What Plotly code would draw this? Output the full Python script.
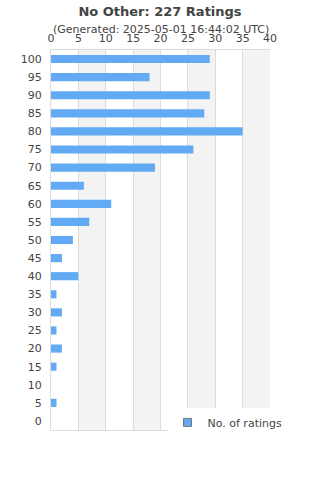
import plotly.graph_objects as go

ratings = [str(v) for v in range(0, 105, 5)]
counts = [0, 1, 0, 1, 2, 1, 2, 1, 5, 2, 4, 7, 11, 6, 19, 26, 35, 28, 29, 18, 29]
x_ticks = list(range(0, 45, 5))
bar_color = "#62aaf4"

fig = go.Figure()
fig.add_trace(go.Bar(
    y=ratings, x=counts, orientation="h", name="No. of ratings",
    marker=dict(color=bar_color, line=dict(width=0)),
    showlegend=False,
))
fig.add_trace(go.Scatter(
    x=[None], y=[None], mode="markers", name="No. of ratings",
    marker=dict(symbol="square", size=8, color=bar_color, line=dict(color="#777", width=1)),
    showlegend=True, hoverinfo="skip",
))

shapes = []
for a in range(5, 40, 10):
    shapes.append(dict(type="rect", xref="x", yref="paper", x0=a, x1=a + 5, y0=0, y1=1,
                       fillcolor="#f3f3f3", line=dict(width=0), layer="below"))
fig.update_layout(
    width=320, height=480,
    margin=dict(l=51, r=50, t=50, b=50),
    paper_bgcolor="white", plot_bgcolor="white",
    font=dict(family="DejaVu Sans", size=11, color="#444"),
    title=dict(text="<b>No Other: 227 Ratings</b>", x=0.5, xanchor="center", y=0.977, yanchor="middle",
               font=dict(size=13, color="#444")),
    annotations=[dict(text="(Generated: 2025-05-01 16:44:02 UTC)", xref="paper", yref="paper",
                      x=0.5, y=1.0 + 20.5 / 380, xanchor="center", yanchor="middle", showarrow=False,
                      font=dict(size=11, color="#444"))],
    shapes=shapes,
    bargap=0.55,
    xaxis=dict(side="top", range=[0, 40], tickvals=x_ticks, showgrid=True, gridcolor="#dddddd",
               gridwidth=1, zeroline=False, showline=True, linecolor="#dddddd", ticks="",
               mirror=True, fixedrange=True, ticklabelstandoff=3),
    yaxis=dict(type="category", categoryorder="array", categoryarray=ratings, showgrid=False,
               showline=True, linecolor="#dddddd", ticks="", ticklabelstandoff=6, range=[-0.5, 20.5]),
    legend=dict(x=0.532, y=0.02, xanchor="left", yanchor="middle", bgcolor="white",
                itemwidth=30, font=dict(size=11, color="#444")),
)
fig.write_html("out.html")
